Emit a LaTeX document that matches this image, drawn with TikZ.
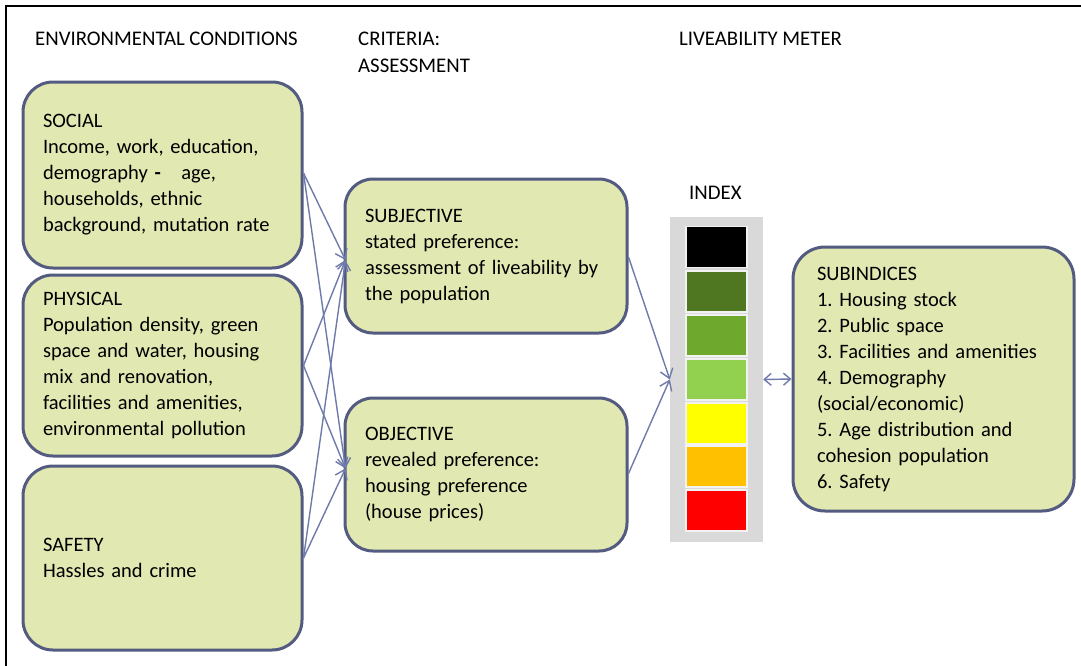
\documentclass[tikz,border=0pt]{standalone}
\usepackage{fontspec}
\setmainfont{Carlito}
\usetikzlibrary{arrows.meta,calc}
\frenchspacing

\definecolor{boxfill}{HTML}{E2E8B2}
\definecolor{boxline}{HTML}{535B80}
\definecolor{linkcol}{HTML}{6E7AAA}
\definecolor{panelgray}{HTML}{D9D9D9}
\definecolor{lvdark}{HTML}{4F7722}
\definecolor{lvmid}{HTML}{6EA92E}
\definecolor{lvlight}{HTML}{92D050}
\definecolor{lvyellow}{HTML}{FFFF00}
\definecolor{lvorange}{HTML}{FFC000}
\definecolor{lvred}{HTML}{FF0000}

\tikzset{
  heading/.style={anchor=base west, inner sep=0pt, font=\fontsize{20.8}{26}\selectfont},
  factorbox/.style n args={3}{draw=boxline, fill=boxfill, line width=3pt,
    rounded corners=#3pt, inner xsep=20pt, inner ysep=0pt,
    text width=#1pt-40pt, minimum width=#1pt, minimum height=#2pt,
    align=left, font=\fontsize{20.5}{26}\selectfont},
  link/.style={draw=linkcol, line width=1.4pt,
    -{Straight Barb[length=9pt,width=13pt,line width=1.4pt]}},
  twoway/.style={draw=linkcol, line width=1.4pt,
    {Straight Barb[length=7pt,width=12pt,line width=1.4pt]}-{Straight Barb[length=7pt,width=12pt,line width=1.4pt]}},
  cell/.style={draw=white!95!black, line width=1.5pt, minimum width=61pt,
    minimum height=41pt, inner sep=0pt},
}

\begin{document}
\begin{tikzpicture}[x=1pt, y=-1pt]
\useasboundingbox (0,0) rectangle (1081,665);

% outer frame (only its top and left edges fall inside the page)
\draw[line width=2.5pt] (6,670) -- (6,6) -- (1090,6);

% column headings
\node[heading] (hEnv) at (35,45) {ENVIRONMENTAL CONDITIONS};
\node[heading] (hCrit) at (358,45) {CRITERIA:};
\node[heading] (hAss) at (358,72) {ASSESSMENT};
\node[heading] (hMeter) at (679,45) {LIVEABILITY METER};

% environmental conditions
\node[factorbox={279}{186}{30}] (social) at (162.5,175) {SOCIAL\\
Income, work, education,\\
demography \textbf{-}\ \ \ age,\\
households, ethnic\\
background, mutation rate};
\node[factorbox={279}{181}{30}] (physical) at (162.5,365.5) {PHYSICAL\\
Population density, green\\
space and water, housing\\
mix and renovation,\\
facilities and amenities,\\
environmental pollution};
\node[factorbox={279}{184}{30}] (safety) at (162.5,558) {SAFETY\\
Hassles and crime};

% assessment criteria
\node[factorbox={282}{154}{28}] (subj) at (486,256) {SUBJECTIVE\\
stated preference:\\
assessment of liveability by\\
the population};
\node[factorbox={282}{153}{28}] (obj) at (486,474.5) {OBJECTIVE\\
revealed preference:\\
housing preference\\
(house prices)};

% liveability meter
\node[heading] (hIndex) at (689,199) {INDEX};
\node[fill=panelgray, minimum width=93pt, minimum height=325pt, inner sep=0pt] (meter) at (716.5,379.5) {};
\node[cell, fill=black]    (c1) at (716.5,247) {};
\node[cell, fill=lvdark]   (c2) at (716.5,291.5) {};
\node[cell, fill=lvmid]    (c3) at (716.5,335.5) {};
\node[cell, fill=lvlight]  (c4) at (716.5,379.5) {};
\node[cell, fill=lvyellow] (c5) at (716.5,423.5) {};
\node[cell, fill=lvorange] (c6) at (716.5,466.5) {};
\node[cell, fill=lvred]    (c7) at (716.5,510.5) {};

% sub-indices
\node[factorbox={281}{264}{32}, inner xsep=24pt, text width=233pt] (subidx) at (933.5,379) {SUBINDICES\\
1. Housing stock\\
2. Public space\\
3. Facilities and amenities\\
4. Demography\\
(social/economic)\\
5. Age distribution and\\
cohesion population\\
6. Safety};

% connectors
\coordinate (subjIn) at ([xshift=2pt,yshift=-4pt]subj.west);
\coordinate (objIn) at ([xshift=2pt,yshift=6pt]obj.west);
\foreach \src/\dy in {social/2, physical/0, safety/0} {
  \draw[link] ([yshift=\dy pt]\src.east) -- (subjIn);
  \draw[link] ([yshift=\dy pt]\src.east) -- (objIn);
}
\draw[link] ([yshift=-1pt]subj.east) -- (meter.west);
\draw[link] ([yshift=1pt]obj.east) -- (meter.west);
\draw[twoway] (meter.east) -- (subidx.west);
\end{tikzpicture}
\end{document}
